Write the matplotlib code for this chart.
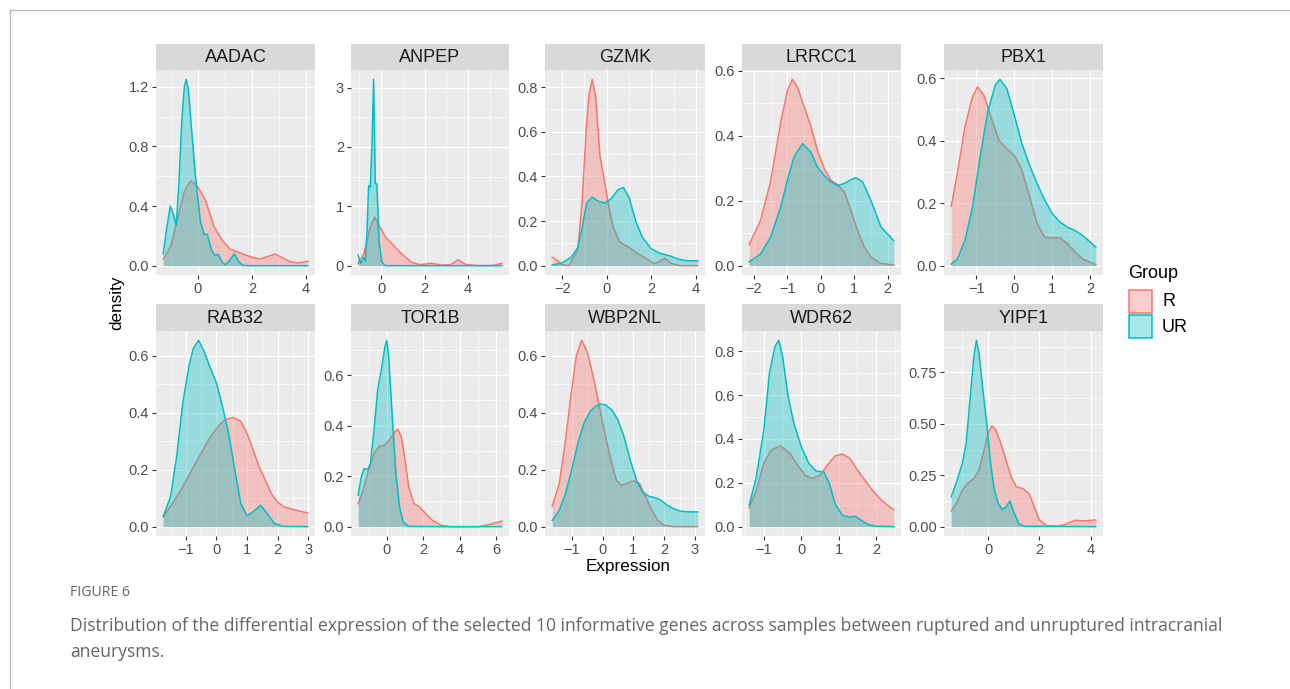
import matplotlib.pyplot as plt
from matplotlib.patches import Rectangle
from matplotlib.lines import Line2D

W, H = 1290, 689
plt.rcParams['font.family'] = ['Liberation Sans', 'DejaVu Sans']

# === Data (density curves per gene and group)
genes = ["AADAC", "ANPEP", "GZMK", "LRRCC1", "PBX1",
         "RAB32", "TOR1B", "WBP2NL", "WDR62", "YIPF1"]

aadac_r_x = [-1.28, -1.0, -0.77, -0.5, -0.26, 0.0, 0.3, 0.6, 0.9, 1.2, 1.6, 2.0, 2.3, 2.6, 2.85, 3.1, 3.4, 3.7, 4.06]
aadac_r_y = [0.045, 0.13, 0.30, 0.50, 0.57, 0.53, 0.43, 0.26, 0.17, 0.11, 0.083, 0.056, 0.045, 0.063, 0.078, 0.056, 0.027, 0.018, 0.03]
aadac_ur_x = [-1.28, -1.15, -1.02, -0.90, -0.80, -0.70, -0.60, -0.50, -0.43, -0.35, -0.25, -0.10, 0.09, 0.23, 0.35,
              0.51, 0.62, 0.75, 0.88, 1.0, 1.15, 1.35, 1.5, 1.65, 2.0, 3.0, 4.06]
aadac_ur_y = [0.08, 0.25, 0.40, 0.34, 0.27, 0.55, 0.95, 1.2, 1.25, 1.18, 0.95, 0.62, 0.30, 0.21, 0.21,
              0.10, 0.07, 0.075, 0.03, 0.005, 0.03, 0.08, 0.03, 0.002, 0.0, 0.0, 0.0]

anpep_r_x = [-1.06, -0.8, -0.5, -0.3, -0.1, 0.2, 0.5, 0.8, 1.1, 1.4, 1.8, 2.3, 2.8, 3.2, 3.55, 3.9, 4.5, 5.2, 5.56]
anpep_r_y = [0.04, 0.2, 0.65, 0.82, 0.68, 0.48, 0.37, 0.25, 0.15, 0.056, 0.017, 0.04, 0.01, 0.017, 0.1, 0.02, 0.0, 0.005, 0.04]
anpep_ur_x = [-1.06, -0.95, -0.8, -0.73, -0.65, -0.58, -0.5, -0.42, -0.35, -0.27, -0.2, -0.1, 0.03, 0.18, 1.0, 3.0, 5.56]
anpep_ur_y = [0.18, 0.03, 0.14, 0.08, 0.6, 1.35, 1.32, 2.1, 3.14, 1.38, 1.38, 0.42, 0.06, 0.0, 0.0, 0.0, 0.0]

gzmk_r_x = [-2.44, -2.3, -2.0, -1.7, -1.3, -1.1, -0.9, -0.8, -0.65, -0.5, -0.3, -0.1, 0.1, 0.3, 0.6, 1.0,
            1.3, 1.7, 2.1, 2.3, 2.6, 2.9, 3.3, 4.08]
gzmk_r_y = [0.037, 0.03, 0.005, 0.0, 0.067, 0.29, 0.64, 0.76, 0.835, 0.76, 0.49, 0.38, 0.26, 0.17, 0.105, 0.082,
            0.06, 0.037, 0.01, 0.015, 0.034, 0.01, 0.0, 0.0]
gzmk_ur_x = [-2.44, -2.0, -1.6, -1.3, -1.1, -0.9, -0.65, -0.4, -0.1, 0.2, 0.5, 0.75, 1.0, 1.3, 1.6, 2.0,
             2.4, 2.8, 3.2, 3.6, 4.08]
gzmk_ur_y = [0.003, 0.012, 0.037, 0.08, 0.17, 0.28, 0.307, 0.29, 0.28, 0.30, 0.34, 0.35, 0.307, 0.2, 0.127, 0.075,
             0.055, 0.045, 0.03, 0.022, 0.022]

lrrcc1_r_x = [-2.14, -1.8, -1.5, -1.2, -1.0, -0.85, -0.7, -0.5, -0.3, -0.1, 0.1, 0.3, 0.5, 0.7, 0.9, 1.1,
              1.3, 1.5, 1.8, 2.18]
lrrcc1_r_y = [0.065, 0.14, 0.26, 0.44, 0.54, 0.574, 0.55, 0.49, 0.43, 0.355, 0.30, 0.263, 0.25, 0.227, 0.17, 0.108,
              0.057, 0.026, 0.007, 0.002]
lrrcc1_ur_x = [-2.14, -1.8, -1.5, -1.2, -1.0, -0.8, -0.55, -0.3, -0.1, 0.1, 0.3, 0.5, 0.7, 0.9, 1.05, 1.25,
               1.5, 1.8, 2.18]
lrrcc1_ur_y = [0.012, 0.036, 0.088, 0.18, 0.263, 0.335, 0.376, 0.35, 0.304, 0.278, 0.258, 0.247, 0.253, 0.265, 0.271, 0.258,
               0.2, 0.119, 0.077]

pbx1_r_x = [-1.66, -1.5, -1.3, -1.1, -0.97, -0.8, -0.6, -0.4, -0.2, 0.0, 0.2, 0.4, 0.6, 0.8, 1.0, 1.2,
            1.4, 1.6, 1.8, 2.14]
pbx1_r_y = [0.19, 0.294, 0.444, 0.54, 0.572, 0.545, 0.47, 0.40, 0.374, 0.353, 0.305, 0.22, 0.134, 0.091, 0.089, 0.089,
            0.07, 0.043, 0.021, 0.004]
pbx1_ur_x = [-1.66, -1.5, -1.3, -1.1, -0.9, -0.7, -0.5, -0.38, -0.2, 0.0, 0.2, 0.4, 0.6, 0.8, 1.0, 1.2,
             1.4, 1.6, 1.8, 2.0, 2.14]
pbx1_ur_y = [0.005, 0.021, 0.08, 0.187, 0.348, 0.492, 0.578, 0.596, 0.567, 0.481, 0.39, 0.321, 0.262, 0.209, 0.166, 0.139,
             0.123, 0.112, 0.096, 0.075, 0.059]

rab32_r_x = [-1.74, -1.4, -1.1, -0.8, -0.5, -0.2, 0.1, 0.3, 0.55, 0.8, 1.0, 1.2, 1.4, 1.6, 1.8, 2.0,
             2.2, 2.4, 2.6, 2.99]
rab32_r_y = [0.035, 0.087, 0.14, 0.2, 0.258, 0.316, 0.358, 0.376, 0.384, 0.37, 0.328, 0.27, 0.21, 0.164, 0.116, 0.087,
             0.07, 0.064, 0.058, 0.048]
rab32_ur_x = [-1.74, -1.5, -1.3, -1.1, -0.9, -0.75, -0.58, -0.4, -0.2, 0.0, 0.2, 0.4, 0.6, 0.8, 1.0, 1.2,
              1.45, 1.65, 1.9, 2.2, 2.99]
rab32_ur_y = [0.036, 0.105, 0.246, 0.434, 0.564, 0.628, 0.655, 0.616, 0.558, 0.505, 0.422, 0.328, 0.2, 0.081, 0.038, 0.052,
              0.075, 0.048, 0.011, 0.001, 0.0]

tor1b_r_x = [-1.57, -1.3, -1.0, -0.7, -0.4, -0.1, 0.2, 0.45, 0.6, 0.8, 1.0, 1.2, 1.5, 1.8, 2.1, 2.5,
             3.0, 3.5, 5.0, 5.6, 6.0, 6.31]
tor1b_r_y = [0.091, 0.144, 0.224, 0.29, 0.319, 0.323, 0.35, 0.376, 0.385, 0.356, 0.264, 0.158, 0.091, 0.078, 0.054, 0.025,
             0.005, 0.0, 0.0, 0.008, 0.016, 0.022]
tor1b_ur_x = [-1.57, -1.4, -1.25, -1.05, -0.9, -0.7, -0.5, -0.3, -0.1, 0.0, 0.1, 0.3, 0.5, 0.7, 0.9, 1.2, 3.0, 6.31]
tor1b_ur_y = [0.125, 0.197, 0.23, 0.226, 0.25, 0.383, 0.542, 0.621, 0.714, 0.738, 0.675, 0.436, 0.21, 0.078, 0.019, 0.001, 0.0, 0.0]

wbp2nl_r_x = [-1.63, -1.4, -1.2, -1.0, -0.85, -0.68, -0.5, -0.3, -0.1, 0.1, 0.3, 0.45, 0.6, 0.8, 1.0, 1.2,
              1.4, 1.6, 1.8, 2.0, 2.3, 3.09]
wbp2nl_r_y = [0.072, 0.152, 0.305, 0.481, 0.6, 0.655, 0.616, 0.528, 0.422, 0.316, 0.222, 0.164, 0.146, 0.152, 0.161, 0.152,
              0.105, 0.058, 0.022, 0.005, 0.0, 0.0]
wbp2nl_ur_x = [-1.63, -1.4, -1.2, -1.0, -0.8, -0.6, -0.4, -0.2, -0.05, 0.1, 0.3, 0.5, 0.7, 0.9, 1.1, 1.3,
               1.5, 1.7, 1.9, 2.1, 2.3, 2.5, 2.8, 3.09]
wbp2nl_ur_y = [0.022, 0.058, 0.116, 0.2, 0.293, 0.364, 0.405, 0.425, 0.431, 0.428, 0.411, 0.375, 0.316, 0.234, 0.164, 0.122,
               0.107, 0.102, 0.093, 0.075, 0.064, 0.055, 0.052, 0.052]

wdr62_r_x = [-1.39, -1.2, -1.0, -0.8, -0.55, -0.3, -0.1, 0.1, 0.3, 0.5, 0.7, 0.9, 1.1, 1.3, 1.5, 1.7,
             1.9, 2.1, 2.3, 2.47]
wdr62_r_y = [0.087, 0.166, 0.289, 0.35, 0.369, 0.334, 0.281, 0.235, 0.22, 0.235, 0.281, 0.322, 0.331, 0.311, 0.258, 0.212,
             0.166, 0.128, 0.098, 0.078]
wdr62_ur_x = [-1.39, -1.2, -1.0, -0.85, -0.7, -0.6, -0.5, -0.35, -0.2, 0.0, 0.2, 0.4, 0.6, 0.75, 0.9, 1.1,
              1.3, 1.45, 1.6, 1.8, 2.0, 2.47]
wdr62_ur_y = [0.098, 0.227, 0.44, 0.70, 0.823, 0.85, 0.777, 0.594, 0.472, 0.365, 0.289, 0.253, 0.25, 0.197, 0.105, 0.052,
              0.044, 0.047, 0.029, 0.009, 0.002, 0.0]

yipf1_r_x = [-1.43, -1.2, -1.0, -0.8, -0.55, -0.35, -0.15, 0.0, 0.15, 0.3, 0.5, 0.7, 0.9, 1.1, 1.35, 1.6,
             1.8, 2.0, 2.3, 2.7, 3.0, 3.4, 3.7, 4.19]
yipf1_r_y = [0.076, 0.12, 0.177, 0.21, 0.234, 0.275, 0.373, 0.454, 0.49, 0.471, 0.405, 0.324, 0.242, 0.194, 0.185, 0.161,
             0.096, 0.031, 0.005, 0.002, 0.011, 0.031, 0.028, 0.033]
yipf1_ur_x = [-1.43, -1.2, -1.0, -0.85, -0.7, -0.55, -0.45, -0.35, -0.2, -0.05, 0.1, 0.25, 0.4, 0.55, 0.7, 0.85,
              1.0, 1.2, 1.4, 4.19]
yipf1_ur_y = [0.145, 0.226, 0.307, 0.405, 0.616, 0.828, 0.906, 0.844, 0.666, 0.503, 0.307, 0.177, 0.112, 0.083, 0.096, 0.125,
              0.072, 0.015, 0.002, 0.0]

# tick breaks per panel
x_breaks = [[0, 2, 4], [0, 2, 4], [-2, 0, 2, 4], [-2, -1, 0, 1, 2], [-1, 0, 1, 2],
            [-1, 0, 1, 2, 3], [0, 2, 4, 6], [-1, 0, 1, 2, 3], [-1, 0, 1, 2], [0, 2, 4]]
y_breaks = [[0, 0.4, 0.8, 1.2], [0, 1, 2, 3], [0, 0.2, 0.4, 0.6, 0.8], [0, 0.2, 0.4, 0.6], [0, 0.2, 0.4, 0.6],
            [0, 0.2, 0.4, 0.6], [0, 0.2, 0.4, 0.6], [0, 0.2, 0.4, 0.6], [0, 0.2, 0.4, 0.6, 0.8], [0, 0.25, 0.5, 0.75]]

curves = [
    (aadac_r_x, aadac_r_y, aadac_ur_x, aadac_ur_y),
    (anpep_r_x, anpep_r_y, anpep_ur_x, anpep_ur_y),
    (gzmk_r_x, gzmk_r_y, gzmk_ur_x, gzmk_ur_y),
    (lrrcc1_r_x, lrrcc1_r_y, lrrcc1_ur_x, lrrcc1_ur_y),
    (pbx1_r_x, pbx1_r_y, pbx1_ur_x, pbx1_ur_y),
    (rab32_r_x, rab32_r_y, rab32_ur_x, rab32_ur_y),
    (tor1b_r_x, tor1b_r_y, tor1b_ur_x, tor1b_ur_y),
    (wbp2nl_r_x, wbp2nl_r_y, wbp2nl_ur_x, wbp2nl_ur_y),
    (wdr62_r_x, wdr62_r_y, wdr62_ur_x, wdr62_ur_y),
    (yipf1_r_x, yipf1_r_y, yipf1_ur_x, yipf1_ur_y),
]

col_r, col_ur = "#F8766D", "#00BFC4"
fill_alpha = 0.35


def fig_box(x0, y0, x1, y1):
    # pixel box (top-left origin) -> figure fraction rect
    return [x0 / W, 1 - y1 / H, (x1 - x0) / W, (y1 - y0) / H]


def fmt(vals):
    dec = 0
    for v in vals:
        s = repr(float(v)).rstrip('0').rstrip('.')
        if '.' in s:
            dec = max(dec, len(s.split('.')[1]))
    return [f"{v:.{dec}f}".replace('-', '\u2212') for v in vals]


fig = plt.figure(figsize=(W / 100, H / 100), dpi=100)

col_x = [(156, 315), (351, 509), (545, 705), (742, 901), (944, 1103)]
row_y = [(44, 70, 275), (304, 331, 536)]

for i, gene in enumerate(genes):
    r, c = divmod(i, 5)
    x0, x1 = col_x[c]
    s0, p0, p1 = row_y[r]
    rx, ry, ux, uy = curves[i]

    ax = fig.add_axes(fig_box(x0, p0, x1, p1))
    ax.set_facecolor("#EBEBEB")
    for sp in ax.spines.values():
        sp.set_visible(False)

    lo = min(min(rx), min(ux))
    hi = max(max(rx), max(ux))
    pad = (hi - lo) * 0.05
    xlim = (lo - pad, hi + pad)
    ytop = max(max(ry), max(uy))
    ylim = (-0.05 * ytop, ytop * 1.05)
    ax.set_xlim(xlim)
    ax.set_ylim(ylim)

    xb, yb = x_breaks[i], y_breaks[i]
    # minor grid: halfway between majors
    xs = xb[1] - xb[0]
    ys = yb[1] - yb[0]
    x_minor = [b + xs / 2 for b in [xb[0] - xs] + xb if xlim[0] < b + xs / 2 < xlim[1]]
    y_minor = [b + ys / 2 for b in [yb[0] - ys] + yb if ylim[0] < b + ys / 2 < ylim[1]]
    for v in x_minor:
        ax.axvline(v, color="white", lw=0.45, zorder=0.5)
    for v in y_minor:
        ax.axhline(v, color="white", lw=0.45, zorder=0.5)
    for v in xb:
        ax.axvline(v, color="white", lw=0.9, zorder=0.6)
    for v in yb:
        ax.axhline(v, color="white", lw=0.9, zorder=0.6)

    ax.fill_between(rx, ry, 0, color=col_r, alpha=fill_alpha, lw=0, zorder=1)
    ax.plot(rx, ry, color=col_r, lw=1.1, zorder=2, solid_joinstyle="round")
    ax.fill_between(ux, uy, 0, color=col_ur, alpha=fill_alpha, lw=0, zorder=3)
    ax.plot(ux, uy, color=col_ur, lw=1.1, zorder=4, solid_joinstyle="round")

    ax.set_xticks(xb)
    ax.set_xticklabels(fmt(xb))
    ax.set_yticks(yb)
    ax.set_yticklabels(fmt(yb))
    ax.tick_params(length=3, width=0.8, color="#333333", labelcolor="#4D4D4D",
                   labelsize=10.5, pad=2)

    # facet strip
    sax = fig.add_axes(fig_box(x0, s0, x1, p0))
    sax.set_facecolor("#D9D9D9")
    sax.set_xticks([])
    sax.set_yticks([])
    for sp in sax.spines.values():
        sp.set_visible(False)
    sax.text(0.5, 0.47, gene, ha="center", va="center", fontsize=13, color="#1A1A1A",
             transform=sax.transAxes)

# shared axis titles
fig.text(117 / W, 1 - 303 / H, "density", rotation=90, ha="center", va="center", fontsize=12.3)
fig.text(628 / W, 1 - 567 / H, "Expression", ha="center", va="center", fontsize=12.3)

# legend
fig.text(1128 / W, 1 - 273 / H, "Group", ha="left", va="center", fontsize=13)
for k, (lab, col) in enumerate([("R", col_r), ("UR", col_ur)]):
    top = 290 + k * 25
    fig.patches.append(Rectangle((1129 / W, 1 - (top + 23) / H), 23 / W, 23 / H,
                                 transform=fig.transFigure, facecolor=col, alpha=fill_alpha,
                                 edgecolor="none"))
    fig.patches.append(Rectangle((1129 / W, 1 - (top + 23) / H), 23 / W, 23 / H,
                                 transform=fig.transFigure, facecolor="none",
                                 edgecolor=col, lw=1.1))
    fig.text(1162 / W, 1 - (top + 12) / H, lab, ha="left", va="center", fontsize=13)

# caption and frame
fig.lines.append(Line2D([10 / W, 1], [1 - 10 / H, 1 - 10 / H], transform=fig.transFigure,
                        color="#BBBBBB", lw=1.0))
fig.lines.append(Line2D([10 / W, 10 / W], [1 - 10 / H, 0], transform=fig.transFigure,
                        color="#BBBBBB", lw=1.0))
fig.text(70 / W, 1 - 593 / H, "FIGURE 6", ha="left", va="center", fontsize=10.2,
         color="#666666", family="Open Sans")
fig.text(70 / W, 1 - 626 / H,
         "Distribution of the differential expression of the selected 10 informative genes across "
         "samples between ruptured and unruptured intracranial",
         ha="left", va="center", fontsize=12.65, color="#666666", family="Open Sans")
fig.text(70 / W, 1 - 652 / H, "aneurysms.", ha="left", va="center", fontsize=12.65,
         color="#666666", family="Open Sans")

fig.savefig("out.png", dpi=100)
